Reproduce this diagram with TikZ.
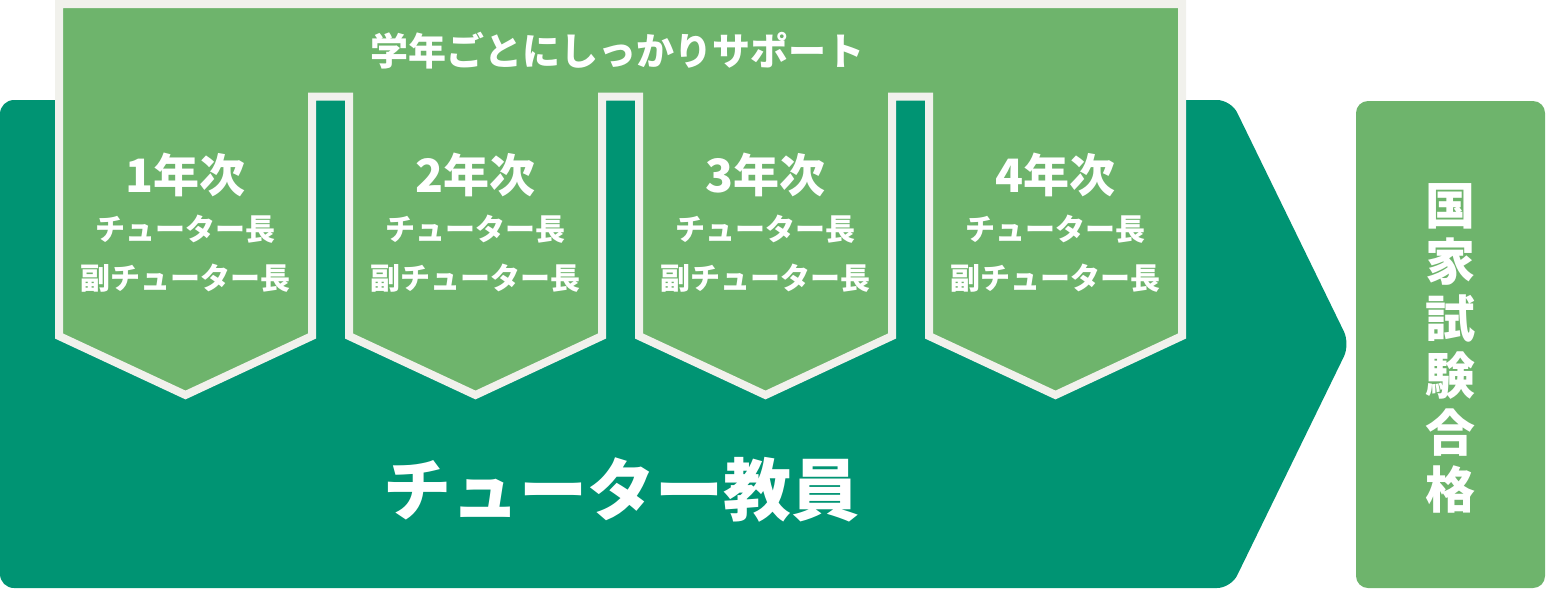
\documentclass[tikz,border=0pt]{standalone}
\usepackage{fontspec}
\setmainfont{Noto Sans CJK JP}
\definecolor{dk}{HTML}{009473}
\definecolor{lt}{HTML}{6EB46C}
\definecolor{bd}{HTML}{F1F1EC}
\tikzset{
  txt/.style={text=white, inner sep=0pt, anchor=center},
  yeartxt/.style={txt, font=\bfseries\fontsize{23}{26}\selectfont},
  roletxt/.style={txt, font=\bfseries\fontsize{15}{18}\selectfont},
}
\begin{document}
\begin{tikzpicture}[x=0.5pt,y=-0.5pt]
\useasboundingbox (0,0) rectangle (1546,590);
% dark green arrow
\fill[dk, rounded corners=7pt] (0,100) -- (1231,100) -- (1350,344) -- (1231,588) -- (0,588) -- cycle;
% light green frame with four tabs
\filldraw[fill=lt, draw=bd, line width=4pt, line join=miter, miter limit=10]
  (59,4) -- (1182,4) -- (1182,336) -- (1055.5,395) -- (929,336) -- (929,96.5)
  -- (892,96.5) -- (892,336) -- (765.5,395) -- (639,336) -- (639,96.5)
  -- (602,96.5) -- (602,336) -- (475.5,395) -- (349,336) -- (349,96.5)
  -- (312,96.5) -- (312,336) -- (185.5,395) -- (59,336) -- cycle;
% right box
\fill[lt, rounded corners=6pt] (1356,101) rectangle (1545,588);
% texts
\node[txt, font=\bfseries\fontsize{19}{22}\selectfont] (title) at (617,51) {学年ごとにしっかりサポート};
\foreach \i/\x in {1/185.5,2/475.5,3/765.5,4/1055.5}{
  \node[yeartxt] (yr\i) at (\x,175) {\i 年次};
  \node[roletxt] (ch\i) at (\x,229) {チューター長};
  \node[roletxt] (vc\i) at (\x,278) {副チューター長};
}
\node[txt, font=\bfseries\fontsize{34}{40}\selectfont] (tutor) at (621,490) {チューター教員};
\node[txt, align=center, font=\bfseries\fontsize{25}{28.4}\selectfont] (goal) at (1450,348) {国\\家\\試\\験\\合\\格};
\end{tikzpicture}
\end{document}
